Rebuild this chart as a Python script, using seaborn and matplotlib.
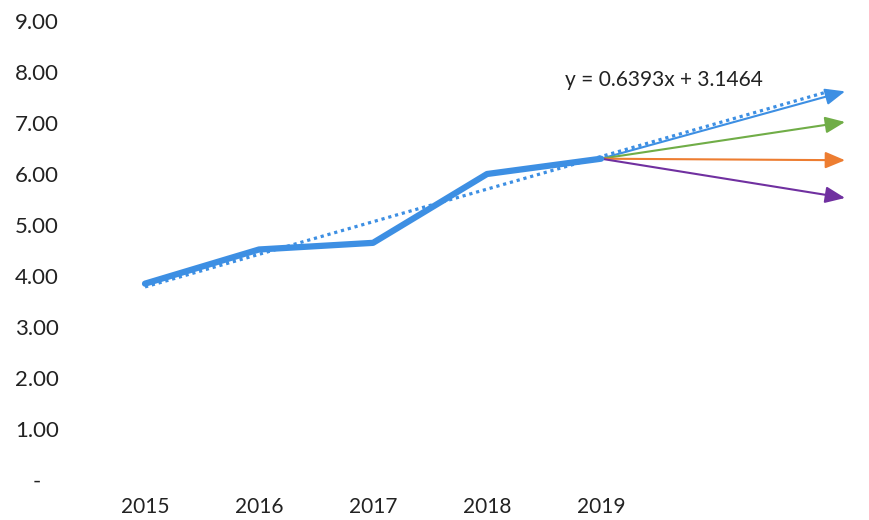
import numpy as np
import pandas as pd
import matplotlib
matplotlib.use("Agg")
import matplotlib.pyplot as plt
import seaborn as sns

years = ["2015", "2016", "2017", "2018", "2019"]
values = [3.85, 4.52, 4.65, 6.00, 6.30]
slope = 0.6393
intercept = 3.1464
forecast_end = 6.0  # category position where the forecast arrows stop
scenario_ends = [7.62, 7.02, 6.27, 5.53]
scenario_colors = ["#3d8fe3", "#70ad47", "#ed7d31", "#7030a0"]
y_ticks = [0, 1, 2, 3, 4, 5, 6, 7, 8, 9]

sns.set_theme(style="white")
plt.rcParams["font.family"] = ["Lato", "DejaVu Sans"]

df = pd.DataFrame({"pos": np.arange(len(years)), "value": values})

fig = plt.figure(figsize=(8.69, 5.2), dpi=100)
ax = fig.add_axes([88 / 869, 40 / 520, 781 / 869, 459 / 520])

# trendline (x in 1-based units, like the spreadsheet)
tx = np.linspace(0, forecast_end, 50)
ty = slope * (tx + 1) + intercept
ax.plot(tx, ty, color="#3d8fe3", lw=2.3, ls=(0, (1, 1.2)), zorder=2)

# scenario arrows from the last point
x0, y0 = df["pos"].iloc[-1], df["value"].iloc[-1]
for end, col in zip(scenario_ends, scenario_colors):
    ax.annotate("", xy=(forecast_end + 0.14, end), xytext=(x0, y0),
                arrowprops=dict(arrowstyle="-|>,head_length=1.0,head_width=0.42",
                                color=col, lw=1.5, shrinkA=0, shrinkB=0),
                zorder=3)

sns.lineplot(data=df, x="pos", y="value", color="#3d8fe3", lw=4.5, ax=ax, zorder=4)

ax.text(3.68, 7.84, f"y = {slope:.4f}x + {intercept:.4f}", fontsize=15,
        color="#222222", va="center", ha="left")

ax.set_xlim(-0.5, 6.35)
ax.set_ylim(0, 9)
ax.set_xticks(df["pos"])
ax.set_xticklabels(years, fontsize=15, color="#222222")
ax.set_yticks(y_ticks)
ax.set_yticklabels(["-   "] + [f"{v:.2f}" for v in y_ticks[1:]], fontsize=16, color="#222222")
ax.tick_params(axis="y", pad=21, length=0)
ax.tick_params(axis="x", pad=12, length=0)
ax.set_xlabel("")
ax.set_ylabel("")
for s in ax.spines.values():
    s.set_visible(False)

fig.savefig("out.png", dpi=100)
